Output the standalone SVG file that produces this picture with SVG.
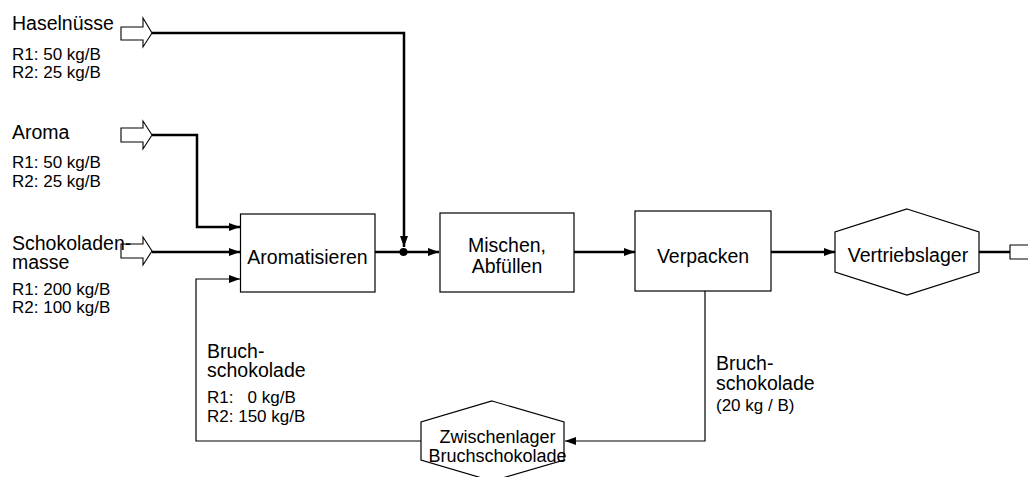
<svg xmlns="http://www.w3.org/2000/svg" width="1028" height="477" viewBox="0 0 1028 477">
<style>
text{font-family:"Liberation Sans",Arial,sans-serif;fill:#000}
.big{font-size:19.5px}
.sm{font-size:17px}
.zw{font-size:18px}
.node{fill:#fff;stroke:#000;stroke-width:1.2}
.hollow{fill:#fff;stroke:#000;stroke-width:1.1}
.thick{fill:none;stroke:#000;stroke-width:2.5}
.thin{fill:none;stroke:#000;stroke-width:1.2}
</style>
<defs>
<marker id="ah" markerUnits="userSpaceOnUse" markerWidth="12" markerHeight="9" refX="11" refY="4" orient="auto" viewBox="0 0 12 9">
<path d="M0,0 L11,4 L0,8 z" fill="#000"/>
</marker>
</defs>

<g id="connectors">
<path class="thick" d="M152,33 H404 V247" marker-end="url(#ah)"/>
<path class="thick" d="M152,135 H197 V227 H240" marker-end="url(#ah)"/>
<path class="thick" d="M152,252 H240" marker-end="url(#ah)"/>
<path class="thin" d="M421,441 H196 V279 H240" marker-end="url(#ah)"/>
<path class="thick" d="M375,252 H439" marker-end="url(#ah)"/>
<circle cx="403.5" cy="252" r="4" fill="#000"/>
<path class="thick" d="M574,252 H635" marker-end="url(#ah)"/>
<path class="thick" d="M771,252 H835" marker-end="url(#ah)"/>
<path class="thick" d="M979,252 H1010"/>
<path class="thin" d="M705,291 V441 H565" marker-end="url(#ah)"/>
</g>

<g id="in-haselnuesse">
<polygon class="hollow" points="121,27 143,27 143,18 152,33 143,47 143,40 121,40"/>
<text class="big" x="12" y="30">Haselnüsse</text>
<text class="sm" x="12" y="60">R1: 50 kg/B</text>
<text class="sm" x="12" y="78">R2: 25 kg/B</text>
</g>

<g id="in-aroma">
<polygon class="hollow" points="121,128 143,128 143,121 152,135 143,149 143,142 121,142"/>
<text class="big" x="12" y="139">Aroma</text>
<text class="sm" x="12" y="168">R1: 50 kg/B</text>
<text class="sm" x="12" y="187">R2: 25 kg/B</text>
</g>

<g id="in-schokoladenmasse">
<polygon class="hollow" points="121,244 143,244 143,237 152,251 143,265 143,258 121,258"/>
<text class="big" x="12" y="250">Schokoladen-</text>
<text class="big" x="12" y="269">masse</text>
<text class="sm" x="12" y="295">R1: 200 kg/B</text>
<text class="sm" x="12" y="313">R2: 100 kg/B</text>
</g>

<g id="aromatisieren">
<rect class="node" x="240.5" y="214" width="134.5" height="78"/>
<text class="big" x="307.5" y="264" text-anchor="middle">Aromatisieren</text>
</g>

<g id="mischen">
<rect class="node" x="440" y="213" width="134" height="79"/>
<text class="big" x="507" y="252" text-anchor="middle">Mischen,</text>
<text class="big" x="507" y="273" text-anchor="middle">Abfüllen</text>
</g>

<g id="verpacken">
<rect class="node" x="635" y="211" width="136" height="80"/>
<text class="big" x="703" y="263" text-anchor="middle">Verpacken</text>
</g>

<g id="vertriebslager">
<polygon class="node" points="907,209 979,232 979,272 907,295 835,272 835,232"/>
<text class="big" x="908" y="262" text-anchor="middle">Vertriebslager</text>
</g>

<g id="out-vertrieb">
<polygon class="hollow" points="1010,245 1032,245 1032,238 1041,252 1032,266 1032,259 1010,259"/>
</g>

<g id="zwischenlager">
<polygon class="node" points="492,401 564,422 564,460 492,481 421,460 421,422"/>
<text class="zw" x="497.5" y="443" text-anchor="middle">Zwischenlager</text>
<text class="zw" x="497.5" y="462" text-anchor="middle">Bruchschokolade</text>
</g>

<g id="label-bruch-links">
<text class="big" x="207" y="358">Bruch-</text>
<text class="big" x="207" y="377">schokolade</text>
<text class="sm" x="207" y="403" xml:space="preserve">R1:   0 kg/B</text>
<text class="sm" x="207" y="422">R2: 150 kg/B</text>
</g>

<g id="label-bruch-rechts">
<text class="big" x="716" y="370">Bruch-</text>
<text class="big" x="716" y="390">schokolade</text>
<text class="sm" x="716" y="411">(20 kg / B)</text>
</g>
</svg>
